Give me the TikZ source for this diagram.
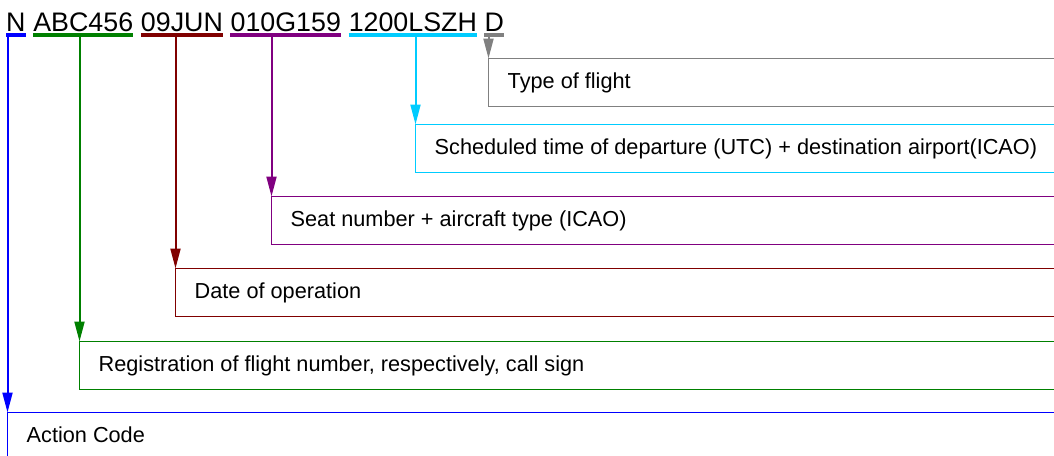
\documentclass[tikz,border=0pt]{standalone}
\usepackage{fontspec}
\setmainfont{Liberation Sans}
\usetikzlibrary{arrows.meta}
\definecolor{cBlue}{HTML}{0000FF}
\definecolor{cGreen}{HTML}{008000}
\definecolor{cRed}{HTML}{800000}
\definecolor{cPurple}{HTML}{800080}
\definecolor{cCyan}{HTML}{00CCFF}
\definecolor{cGray}{HTML}{808080}
\begin{document}
\begin{tikzpicture}[x=1pt,y=-1pt,
  word/.style={anchor=base west, inner sep=0pt, font=\fontsize{26.8}{30}\selectfont},
  fieldbox/.style={draw, line width=1pt, anchor=north west, outer sep=0pt, inner sep=0pt, minimum height=48pt, rectangle},
  fieldtext/.style={anchor=base west, inner sep=0pt, font=\fontsize{21.7}{26}\selectfont},
  link/.style={line width=2pt, -{Triangle[length=20pt,width=10pt]}},
  uline/.style={line width=3.5pt}]
\useasboundingbox (0,0) rectangle (1054,455);
\clip (0,0) rectangle (1054,455);
% title words
\node[word] (wN) at (6,31) {N};
\node[word] (wReg) at ([xshift=7.4pt]wN.base east) {ABC456};
\node[word] (wDate) at ([xshift=7.4pt]wReg.base east) {09JUN};
\node[word] (wSeat) at ([xshift=7.4pt]wDate.base east) {010G159};
\node[word] (wTime) at ([xshift=7.4pt]wSeat.base east) {1200LSZH};
\node[word] (wType) at ([xshift=7.4pt]wTime.base east) {D};
% underlines
\draw[uline,cBlue] ([yshift=-4pt]wN.base west) -- ([yshift=-4pt]wN.base east);
\draw[uline,cGreen] ([yshift=-4pt]wReg.base west) -- ([yshift=-4pt]wReg.base east);
\draw[uline,cRed] ([yshift=-4pt]wDate.base west) -- ([yshift=-4pt]wDate.base east);
\draw[uline,cPurple] ([yshift=-4pt]wSeat.base west) -- ([yshift=-4pt]wSeat.base east);
\draw[uline,cCyan] ([yshift=-4pt]wTime.base west) -- ([yshift=-4pt]wTime.base east);
\draw[uline,cGray] ([yshift=-4pt]wType.base west) -- ([yshift=-4pt]wType.base east);
\coordinate (uLine) at ([yshift=-4pt]wN.base west);
% boxes
\node[fieldbox,cGray,minimum width=580pt] (bType) at (488.5,58.5) {};
\node[fieldbox,cCyan,minimum width=650pt] (bTime) at (415.5,124.5) {};
\node[fieldbox,cPurple,minimum width=790pt] (bSeat) at (271.5,196.5) {};
\node[fieldbox,cRed,minimum width=890pt] (bDate) at (175.5,268.5) {};
\node[fieldbox,cGreen,minimum width=990pt] (bReg) at (79.5,341.5) {};
\node[fieldbox,cBlue,minimum width=1060pt,minimum height=80pt] (bAct) at (7.5,412.5) {};
% texts
\node[fieldtext] (tType) at ([xshift=19pt,yshift=-30pt]bType.north west) {Type of flight};
\node[fieldtext] (tTime) at ([xshift=19pt,yshift=-30pt]bTime.north west) {Scheduled time of departure (UTC) + destination airport(ICAO)};
\node[fieldtext] (tSeat) at ([xshift=19pt,yshift=-30pt]bSeat.north west) {Seat number + aircraft type (ICAO)};
\node[fieldtext] (tDate) at ([xshift=19pt,yshift=-30pt]bDate.north west) {Date of operation};
\node[fieldtext] (tReg) at ([xshift=19pt,yshift=-30pt]bReg.north west) {Registration of flight number, respectively, call sign};
\node[fieldtext] (tAct) at ([xshift=19pt,yshift=-30pt]bAct.north west) {Action Code};
% connectors
\draw[link,cGray] (bType.north west |- uLine) -- (bType.north west);
\draw[link,cCyan] (bTime.north west |- uLine) -- (bTime.north west);
\draw[link,cPurple] (bSeat.north west |- uLine) -- (bSeat.north west);
\draw[link,cRed] (bDate.north west |- uLine) -- (bDate.north west);
\draw[link,cGreen] (bReg.north west |- uLine) -- (bReg.north west);
\draw[link,cBlue] (bAct.north west |- uLine) -- (bAct.north west);
\end{tikzpicture}
\end{document}
